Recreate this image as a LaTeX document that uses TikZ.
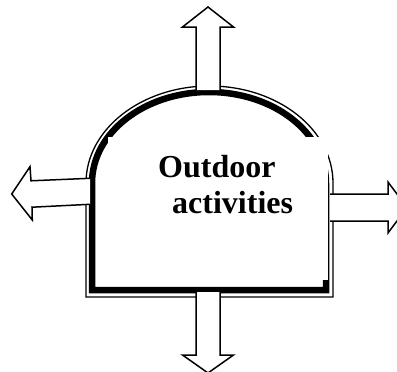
\documentclass[tikz,border=0pt]{standalone}
\usepackage{fontspec}
\setmainfont{Liberation Serif}
\tikzset{
  blockarrow/.style={line width=1.5pt, fill=white, line join=miter},
  caption/.style={anchor=base west, inner sep=0pt, font=\bfseries\fontsize{32}{36}\selectfont}
}
\begin{document}
\begin{tikzpicture}[x=1pt, y=-1pt, line join=miter]
	\useasboundingbox (0,0) rectangle (397,372);
	
	% dome: thin outer line, thick inner line
	\draw[line width=1.3pt] (86,297) -- (86,183) arc[start angle=180, end angle=360, x radius=123.5, y radius=97] -- (333,297) -- cycle;
	\draw[line width=6.5pt] (92,290) -- (92,183) arc[start angle=180, end angle=360, x radius=117, y radius=91] -- (326,290) -- cycle;
	
	% white text box over the dome
	\node[fill=white, inner sep=0pt, minimum width=220pt, minimum height=143pt] (box) at (218,208.5) {};
	\node[caption] (word1) at (158,177) {Outdoor};
	\node[caption] (word2) at (172,213) {activities};
	
	% block arrows
	\draw[blockarrow] (196,90) -- (196,27) -- (182.5,27) -- (208,7) -- (233.5,27) -- (220,27) -- (220,90);
	\draw[blockarrow] (196,292) -- (196,355) -- (182.5,355) -- (208,373) -- (233.5,355) -- (220,355) -- (220,292);
	\draw[blockarrow] (330,194) -- (388,194) -- (388,182) -- (407,207.5) -- (388,233) -- (388,221) -- (330,221);
	\draw[blockarrow] (90,178.3) -- (31,180.8) -- (30,166.7) -- (11.7,194) -- (32.3,220) -- (32,207.2) -- (90,204.3);
\end{tikzpicture}
\end{document}
